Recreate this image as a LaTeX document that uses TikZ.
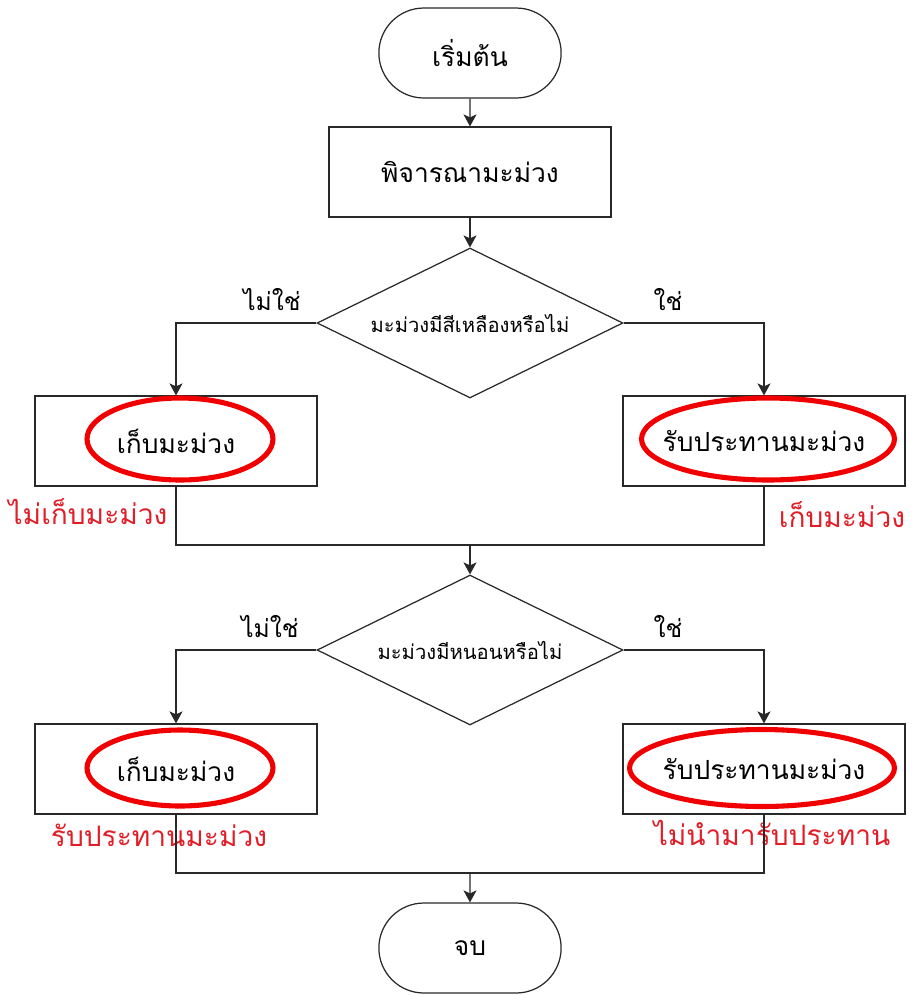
\documentclass[tikz,border=0pt]{standalone}
\usepackage{fontspec}
\newfontfamily\thaifont[Script=Thai]{Loma}
\usetikzlibrary{shapes.geometric, shapes.misc, arrows.meta, positioning}
\definecolor{markred}{RGB}{240,0,0}
\definecolor{notered}{RGB}{225,30,40}
\definecolor{lineblack}{RGB}{40,40,40}

\begin{document}
\begin{tikzpicture}[x=0.02cm, y=-0.02cm,
    every node/.style={font=\thaifont},
    terminal/.style={rounded rectangle, draw=lineblack, line width=0.7pt, minimum width=3.88cm, minimum height=1.8cm, font=\thaifont\fontsize{15}{18}\selectfont},
    procbox/.style={rectangle, draw=lineblack, line width=0.7pt, minimum width=5.64cm, minimum height=1.8cm, font=\thaifont\fontsize{15}{18}\selectfont},
    decision/.style={diamond, aspect=2.04, draw=lineblack, line width=0.7pt, minimum width=6.12cm, minimum height=3cm, inner sep=0pt, font=\thaifont\fontsize{11.5}{14}\selectfont},
    ring/.style={ellipse, draw=markred, line width=2.9pt, inner sep=0pt},
    note/.style={text=notered, font=\thaifont\fontsize{16}{19}\selectfont},
    answer/.style={font=\thaifont\fontsize{14}{17}\selectfont},
    arrow/.style={draw=lineblack, line width=0.7pt, -{Stealth[length=2.4mm, width=2.6mm, inset=0.6mm]}},
    link/.style={draw=lineblack, line width=0.7pt}]
    \useasboundingbox (0,0) rectangle (914,995);

    % Start and first step
    \node[terminal] (start) at (470,53) {เริ่มต้น};
    \node[procbox] (check) at (470,172) {พิจารณามะม่วง};
    \draw[arrow] (start) -- (check);

    % First question (yellow?)
    \node[decision] (yellow) at (470,323) {มะม่วงมีสีเหลืองหรือไม่};
    \draw[arrow] (check) -- (yellow);

    % Left branch (no)
    \node[procbox] (keepA) at (176,441) {เก็บมะม่วง};
    \node[ring, minimum width=3.72cm, minimum height=1.64cm] (keepAring) at (180,439) {};
    \node[note] (keepAnote) at (88,512) {ไม่เก็บมะม่วง};
    \draw[arrow] (yellow.west) -| (keepA.north);
    \node[answer] (noA) at (272,300) {ไม่ใช่};

    % Right branch (yes)
    \node[procbox] (eatA) at (764,441) {รับประทานมะม่วง};
    \node[ring, minimum width=5.06cm, minimum height=1.64cm] (eatAring) at (768,439) {};
    \node[note] (eatAnote) at (842,515) {เก็บมะม่วง};
    \draw[arrow] (yellow.east) -| (eatA.north);
    \node[answer] (yesA) at (668,300) {ใช่};

    % Join
    \coordinate (joinA) at (470,545);
    \draw[link] (keepA.south) |- (joinA) -| (eatA.south);

    % Second question (worms?)
    \node[decision] (worm) at (470,650) {มะม่วงมีหนอนหรือไม่};
    \draw[arrow] (joinA) -- (worm.north);

    % Left branch (no)
    \node[procbox] (keepB) at (176,769) {เก็บมะม่วง};
    \node[ring, minimum width=3.72cm, minimum height=1.52cm] (keepBring) at (180,768) {};
    \node[note] (keepBnote) at (159,835) {รับประทานมะม่วง};
    \draw[arrow] (worm.west) -| (keepB.north);
    \node[answer] (noB) at (270,627) {ไม่ใช่};

    % Right branch (yes)
    \node[procbox] (eatB) at (764,769) {รับประทานมะม่วง};
    \node[ring, minimum width=5.3cm, minimum height=1.54cm] (eatBring) at (762,768) {};
    \node[note] (eatBnote) at (772,833) {ไม่นำมารับประทาน};
    \draw[arrow] (worm.east) -| (eatB.north);
    \node[answer] (yesB) at (668,627) {ใช่};

    % Join and end
    \coordinate (joinB) at (470,873);
    \draw[link] (keepB.south) |- (joinB) -| (eatB.south);
    \node[terminal] (finish) at (470,948) {จบ};
    \draw[arrow] (joinB) -- (finish);
\end{tikzpicture}
\end{document}
